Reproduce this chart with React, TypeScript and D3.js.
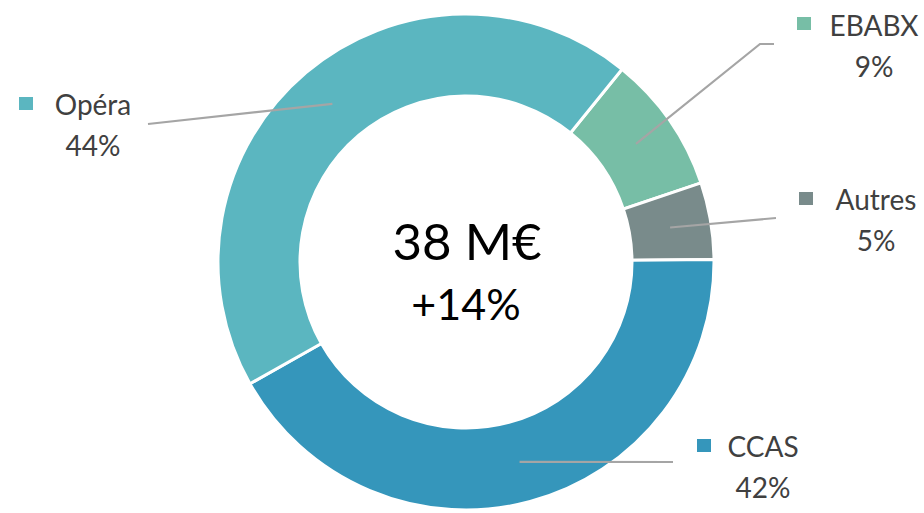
import React from 'react';
import * as d3 from 'd3';

// share of the 38 M€ total, in %
const categories = ['EBABX', 'Autres', 'CCAS', 'Opéra'];
const shares = [9, 5, 42, 44];
const sliceColors = ['#77bea6', '#798b8b', '#3596bb', '#5bb6c0'];
const totalLabel = '38 M€';
const growthLabel = '+14%';

const W = 924;
const H = 513;
const cx = 466;
const cy = 262;
const outerR = 248;
const innerR = 166;

// where each label sits, and the leader line bend points
const labelPos = {
  EBABX: { x: 874, y: 36, sq: [797, 17], line: [[760, 44], [774, 44]] },
  Autres: { x: 876, y: 210, sq: [799, 192], line: [[776, 218]] },
  CCAS: { x: 763, y: 457, sq: [697, 439], line: [[673, 462]] },
  'Opéra': { x: 93, y: 115, sq: [19, 97], line: [[148, 124]] },
};

const App = () => {
  const data = categories.map((c, i) => ({ name: c, value: shares[i], color: sliceColors[i] }));

  const startA = (39 * Math.PI) / 180;
  const pie = d3.pie<any>()
    .value((d) => d.value)
    .sort(null)
    .startAngle(startA)
    .endAngle(startA + 2 * Math.PI);

  const arc = d3.arc<any>().innerRadius(innerR).outerRadius(outerR);
  const arcs = pie(data);
  const font = "Lato, 'Open Sans', sans-serif";

  return (
    <svg width={W} height={H} style={{ position: 'absolute', left: 0, top: 0 }}>
      <rect width={W} height={H} fill="#fff" />
      <g transform={`translate(${cx},${cy})`}>
        {arcs.map((a) => (
          <path key={a.data.name} d={arc(a) as string} fill={a.data.color} stroke="#fff" strokeWidth={3} />
        ))}
      </g>
      {arcs.map((a) => {
        const [px, py] = arc.centroid(a);
        const lp = labelPos[a.data.name];
        const pts = [[cx + px, cy + py], ...lp.line];
        const line = d3.line()(pts as [number, number][]);
        return (
          <g key={a.data.name}>
            <path d={line as string} fill="none" stroke="#a5a5a5" strokeWidth={2.2} />
            <rect x={lp.sq[0]} y={lp.sq[1]} width={14} height={13} fill={a.data.color} />
            <text x={lp.x} y={lp.y} textAnchor="middle" fontFamily={font} fontSize={28} fill="#404040">
              {a.data.name}
            </text>
            <text x={lp.x} y={lp.y + 41} textAnchor="middle" fontFamily={font} fontSize={28} fill="#404040">
              {d3.format('d')(a.data.value)}%
            </text>
          </g>
        );
      })}
      <text x={467} y={260} textAnchor="middle" fontFamily={font} fontSize={51} fill="#000">
        {totalLabel}
      </text>
      <text x={466} y={320} textAnchor="middle" fontFamily={font} fontSize={43} fill="#000">
        {growthLabel}
      </text>
    </svg>
  );
};

export default App;
